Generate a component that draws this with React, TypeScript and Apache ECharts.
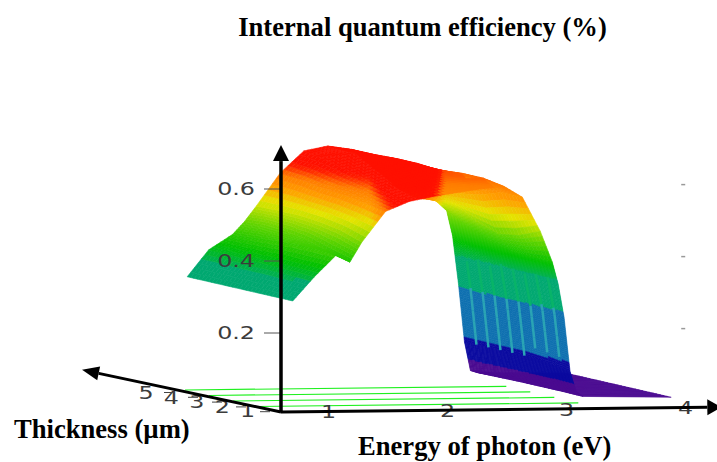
import React, { useEffect, useRef } from "react";
import * as echarts from "echarts";

const titleText = "Internal quantum efficiency (%)";
const thicknessName = "Thickness (µm)";
const energyName = "Energy of photon (eV)";

const energyTicks = [1, 2, 3, 4];
const thicknessTicks = [1, 2, 3, 4, 5];
const efficiencyTicks = [0.2, 0.4, 0.6];
const floorLines = [1, 2, 3, 4];
const stripeThickness = [1.0, 1.5, 2.0, 2.5, 3.0, 3.5, 4.0, 4.5];

const energies = [0.82, 1.0, 1.2, 1.3, 1.4, 1.6, 1.8, 2.0, 2.2, 2.4, 2.6, 2.75, 2.9, 3.0, 3.05, 3.1, 3.15, 3.2, 3.26, 4.0];
const thicknesses = [5, 4.12, 3.24, 2.36, 1.48, 0.6];
const q50 = [0.279, 0.353, 0.395, 0.43, 0.473, 0.564, 0.625, 0.638, 0.628, 0.572, 0.517, 0.49, 0.485, 0.455, 0.385, 0.25, 0.09, 0.01, 0.004, 0];
const q41 = [0.279, 0.353, 0.4, 0.435, 0.475, 0.56, 0.615, 0.635, 0.628, 0.615, 0.56, 0.52, 0.475, 0.425, 0.36, 0.245, 0.09, 0.02, 0.005, 0];
const q32 = [0.279, 0.35, 0.405, 0.43, 0.475, 0.55, 0.6, 0.62, 0.62, 0.615, 0.585, 0.53, 0.45, 0.4, 0.34, 0.24, 0.09, 0.03, 0.006, 0];
const q24 = [0.279, 0.35, 0.41, 0.42, 0.47, 0.545, 0.585, 0.605, 0.61, 0.61, 0.6, 0.54, 0.43, 0.385, 0.33, 0.24, 0.09, 0.035, 0.006, 0];
const q15 = [0.279, 0.348, 0.41, 0.4, 0.46, 0.535, 0.57, 0.585, 0.595, 0.6, 0.6, 0.56, 0.44, 0.38, 0.32, 0.23, 0.085, 0.035, 0.006, 0];
const q06 = [0.279, 0.345, 0.41, 0.385, 0.44, 0.525, 0.552, 0.565, 0.575, 0.585, 0.59, 0.56, 0.465, 0.38, 0.318, 0.225, 0.075, 0.02, 0.005, 0];
const rows = [q50, q41, q32, q24, q15, q06];

const gradientStops: [number, number[]][] = [
  [0.33, [0, 176, 80]],
  [0.37, [0, 192, 0]],
  [0.43, [96, 212, 0]],
  [0.49, [228, 228, 0]],
  [0.54, [255, 160, 0]],
  [0.59, [255, 124, 0]],
  [0.625, [255, 32, 0]],
  [0.64, [255, 16, 0]],
];

const clamp01 = (v: number) => Math.max(0, Math.min(1, v));

function colorOf(value: number, screenX: number): string {
  // the low-energy shoulder reads redder than the high-energy one at the same height
  const shoulder = clamp01((445 - screenX) / 20);
  const crease = clamp01((screenX - 370) / 30) * shoulder;
  let q = value;
  if (value > 0.5) q += (value - 0.5) * 0.45 * shoulder;
  if (value > 0.45) q += 0.1 * crease;
  if (q < 0.04) return "#4a0a90";
  if (q < 0.1) return "#0a0aa0";
  if (q < 0.24) return "#0f70b0";
  if (q < 0.33) return "#00a870";
  for (let i = 0; i < gradientStops.length - 1; i++) {
    const [a, ca] = gradientStops[i];
    const [b, cb] = gradientStops[i + 1];
    if (q <= b) {
      const f = (q - a) / (b - a);
      return `rgb(${ca.map((c, k) => Math.round(c + (cb[k] - c) * f)).join(",")})`;
    }
  }
  return "#ff1000";
}

function stripeColor(q: number): string | null {
  if (q < 0.105 || q >= 0.33) return null;
  if (q < 0.24) return "#2aa4b4";
  return "#08b468";
}

const PX_E = 119;
const PX_Q = 360;
const DEPTH_X = 24;
const DEPTH_Y = 5.5;
const RISE_E = 1.3;
const E0 = 0.6;
const BASE_Q = -0.0194;

function project(api: any, e: number, t: number, q: number): number[] {
  return api.coord([e - (DEPTH_X / PX_E) * t, q + (DEPTH_Y * t + RISE_E * (e - E0)) / PX_Q]);
}

function qAt(e: number, t: number): number {
  let i = 0;
  while (i < energies.length - 2 && e > energies[i + 1]) i++;
  let j = 0;
  while (j < thicknesses.length - 2 && t < thicknesses[j + 1]) j++;
  const fe = (e - energies[i]) / (energies[i + 1] - energies[i]);
  const ft = (t - thicknesses[j]) / (thicknesses[j + 1] - thicknesses[j]);
  const a = rows[j][i] + (rows[j][i + 1] - rows[j][i]) * fe;
  const b = rows[j + 1][i] + (rows[j + 1][i + 1] - rows[j + 1][i]) * fe;
  return a + (b - a) * ft;
}

const cells: number[][] = [];
thicknesses.slice(0, -1).forEach((_, j) => energies.slice(0, -1).forEach((_e, i) => cells.push([j, i])));

const LABEL_FONT = '17px "DejaVu Sans"';
const LABEL_FILL = "#3c3c3c";
const NAME_FONT = 'bold 26.6px "Liberation Serif"';

function stretched(x: number, y: number, text: string, align: string) {
  return {
    type: "text",
    x,
    y,
    scaleX: 1.4,
    style: { text, font: LABEL_FONT, fill: LABEL_FILL, align, verticalAlign: "middle" },
  };
}

function arrow(p0: number[], tip: number[], len: number, half: number, width: number) {
  const dx = tip[0] - p0[0];
  const dy = tip[1] - p0[1];
  const d = Math.hypot(dx, dy);
  const ux = dx / d;
  const uy = dy / d;
  const bx = tip[0] - ux * len;
  const by = tip[1] - uy * len;
  return [
    { type: "line", shape: { x1: p0[0], y1: p0[1], x2: bx, y2: by }, style: { stroke: "#000", lineWidth: width } },
    {
      type: "polygon",
      shape: { points: [tip, [bx - uy * half, by + ux * half], [bx + uy * half, by - ux * half]] },
      style: { fill: "#000" },
    },
  ];
}

export default function App() {
  const ref = useRef<HTMLDivElement>(null);
  useEffect(() => {
    document.body.style.margin = "0";
    const chart = echarts.init(ref.current!, undefined, { renderer: "svg" });
    const hidden = { show: false };
    const surface = (params: any, api: any) => {
      const [j, i] = cells[params.dataIndex];
      const e0 = energies[i];
      const e1 = energies[i + 1];
      const steep = e0 >= 3.0 && e0 < 3.2;
      const nE = i === energies.length - 2 ? 1 : steep ? 24 : 6;
      const nT = 6;
      const t0 = thicknesses[j];
      const t1 = thicknesses[j + 1];
      const children: any[] = [];
      for (let b = 0; b < nT; b++) {
        for (let a = 0; a < nE; a++) {
          const ea = e0 + ((e1 - e0) * a) / nE;
          const eb = e0 + ((e1 - e0) * (a + 1)) / nE;
          const ta = t0 + ((t1 - t0) * b) / nT;
          const tb = t0 + ((t1 - t0) * (b + 1)) / nT;
          const em = (ea + eb) / 2;
          const tm = (ta + tb) / 2;
          const screenX = project(api, em, tm, 0)[0];
          const color = colorOf(qAt(em, tm), screenX);
          children.push({
            type: "polygon",
            shape: {
              points: [
                project(api, ea, ta, qAt(ea, ta)),
                project(api, eb, ta, qAt(eb, ta)),
                project(api, eb, tb, qAt(eb, tb)),
                project(api, ea, tb, qAt(ea, tb)),
              ],
            },
            style: { fill: color, stroke: color, lineWidth: 0.6 },
          });
        }
      }
      return { type: "group", children };
    };
    const stripes = (params: any, api: any) => {
      const t = stripeThickness[params.dataIndex];
      const children: any[] = [];
      for (let k = 0; k < 36; k++) {
        const ea = 2.9 + k * 0.01;
        const eb = ea + 0.01;
        const color = stripeColor(qAt((ea + eb) / 2, t));
        if (!color) continue;
        const p = project(api, ea, t, qAt(ea, t));
        const r = project(api, eb, t, qAt(eb, t));
        children.push({ type: "line", shape: { x1: p[0], y1: p[1], x2: r[0], y2: r[1] }, style: { stroke: color, lineWidth: 2.5 } });
      }
      return { type: "group", children };
    };
    const floor = (params: any, api: any) => {
      const t = floorLines[params.dataIndex];
      const a = project(api, E0, t, BASE_Q);
      const b = project(api, 3.3, t, BASE_Q);
      return { type: "line", shape: { x1: a[0], y1: a[1], x2: b[0], y2: b[1] }, style: { stroke: "#20f020", lineWidth: 1.2 } };
    };
    const axes = (_p: any, api: any) => {
      const origin = project(api, E0, 0, BASE_Q);
      const zTip = project(api, E0, 0, 0.722);
      const eTip = project(api, 4.3, 0, BASE_Q);
      const tTip = project(api, E0, 8.29, -0.029);
      const children: any[] = [
        ...arrow(origin, zTip, 16, 8, 3.5),
        ...arrow(origin, eTip, 14, 8, 3),
        ...arrow(origin, tTip, 17, 7, 3),
      ];
      return { type: "group", children };
    };
    const zTicks = (params: any, api: any) => {
      const q = efficiencyTicks[params.dataIndex];
      const p = project(api, E0, 0, q);
      const side = project(api, 3.98, 0, q);
      return {
        type: "group",
        children: [
          { type: "line", shape: { x1: p[0] - 17, y1: p[1], x2: p[0], y2: p[1] }, style: { stroke: "#555", lineWidth: 1 } },
          { type: "line", shape: { x1: side[0] - 2, y1: side[1], x2: side[0] + 2, y2: side[1] }, style: { stroke: "#999", lineWidth: 1.5 } },
          stretched(p[0] - 26, p[1], q.toFixed(1), "right"),
        ],
      };
    };
    const eTicks = (params: any, api: any) => {
      const e = energyTicks[params.dataIndex];
      const p = project(api, e, 0, BASE_Q);
      return stretched(p[0], p[1] + 1, String(e), "center");
    };
    const tTicks = (params: any, api: any) => {
      const t = thicknessTicks[params.dataIndex];
      const p = project(api, E0, t, -0.03);
      return {
        type: "group",
        children: [
          { type: "line", shape: { x1: p[0] + 3, y1: p[1] + 0.7 + 0.7 * t, x2: p[0] + 13, y2: p[1] + 0.7 + 0.7 * t }, style: { stroke: "#444", lineWidth: 1 } },
          stretched(p[0] - 8 - 1.4 * t, p[1] + 0.2 + t, String(t), "center"),
        ],
      };
    };
    const idx = (a: any[]) => a.map((_, i) => [i]);
    const custom = (renderItem: any, data: any[]) => ({
      type: "custom",
      renderItem,
      data,
      silent: true,
      clip: false,
      coordinateSystem: "cartesian2d",
      encode: { x: 0, y: 0 },
    });
    chart.setOption({
      animation: false,
      backgroundColor: "#fff",
      grid: { left: 0, right: 0, top: 0, bottom: 0 },
      xAxis: { type: "value", min: E0 - 281 / PX_E, max: E0 + 436 / PX_E, axisLine: hidden, axisTick: hidden, axisLabel: hidden, splitLine: hidden },
      yAxis: { type: "value", min: -57 / PX_Q, max: 405 / PX_Q, axisLine: hidden, axisTick: hidden, axisLabel: hidden, splitLine: hidden },
      graphic: [
        { type: "text", x: 422.5, y: 27, style: { text: titleText, font: NAME_FONT, fill: "#000", align: "center", verticalAlign: "middle" } },
        { type: "text", x: 14, y: 429, style: { text: thicknessName, font: NAME_FONT, fill: "#000", align: "left", verticalAlign: "middle" } },
        { type: "text", x: 358, y: 446, style: { text: energyName, font: NAME_FONT, fill: "#000", align: "left", verticalAlign: "middle" } },
      ],
      series: [
        custom(floor, idx(floorLines)),
        custom(surface, idx(cells)),
        custom(stripes, idx(stripeThickness)),
        custom(eTicks, idx(energyTicks)),
        custom(tTicks, idx(thicknessTicks)),
        custom(zTicks, idx(efficiencyTicks)),
        custom(axes, [[0]]),
      ],
    });
    return () => chart.dispose();
  }, []);
  return <div ref={ref} style={{ width: 717, height: 462 }} />;
}
